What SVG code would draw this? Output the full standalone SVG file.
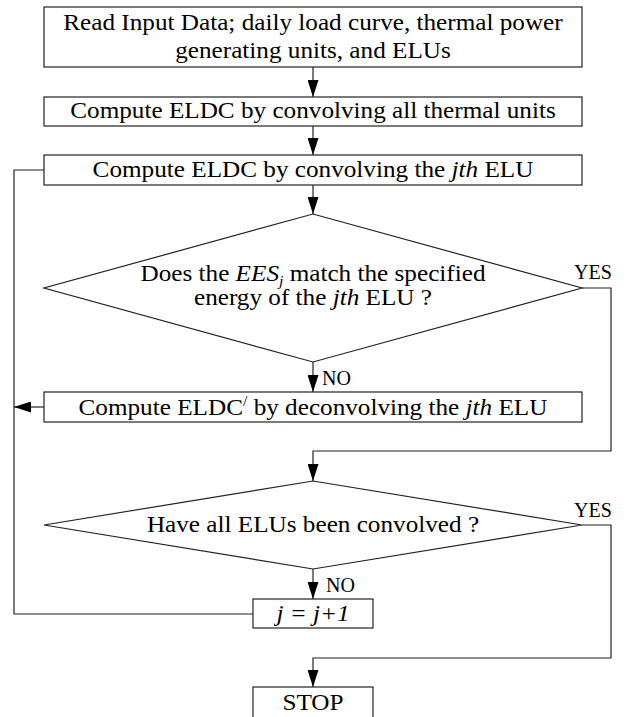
<svg xmlns="http://www.w3.org/2000/svg" width="628" height="717" viewBox="0 0 628 717">
<style>
text{font-family:"Liberation Serif","Times New Roman",Times,serif}
.b{fill:#fff;stroke:#222;stroke-width:1.2}
.c{fill:none;stroke:#222;stroke-width:1.2}
.t{font-size:24px;text-anchor:middle}
.l{font-size:20px}
.i{font-style:italic}
</style>
<defs>
<marker id="ah" viewBox="0 0 17 11" refX="17" refY="5.5" markerWidth="17" markerHeight="11" markerUnits="userSpaceOnUse" orient="auto">
<path d="M0,0 L17,5.5 L0,11 Z" fill="#000"/>
</marker>
</defs>
<rect width="628" height="717" fill="#fff"/>
<g id="connectors">
<path class="c" d="M313,67 V97" marker-end="url(#ah)"/>
<path class="c" d="M313,126 V155" marker-end="url(#ah)"/>
<path class="c" d="M313,185 V214" marker-end="url(#ah)"/>
<path class="c" d="M313,362 V392" marker-end="url(#ah)"/>
<path class="c" d="M582,288 H611 V451 H313 V481" marker-end="url(#ah)"/>
<path class="c" d="M44,407 H14" marker-end="url(#ah)"/>
<path class="c" d="M44,170 H14 V614 H253"/>
<path class="c" d="M313,569 V599" marker-end="url(#ah)"/>
<path class="c" d="M582,525 H611 V658 H313 V687" marker-end="url(#ah)"/>
<text class="l" x="574" y="279">YES</text>
<text class="l" x="322" y="385">NO</text>
<text class="l" x="574" y="517">YES</text>
<text class="l" x="326" y="592">NO</text>
</g>
<g id="read">
<rect class="b" x="44" y="7" width="538" height="60"/>
<g transform="translate(313,0) scale(1.05,1) translate(-313,0)">
<text class="t" x="313" y="30">Read Input Data; daily load curve, thermal power</text>
<text class="t" x="313" y="58">generating units, and ELUs</text>
</g>
</g>
<g id="thermal">
<rect class="b" x="44" y="97" width="538" height="29"/>
<text class="t" x="313" y="118" transform="translate(313,0) scale(1.05,1) translate(-313,0)">Compute ELDC by convolving all thermal units</text>
</g>
<g id="convolve">
<rect class="b" x="44" y="155" width="538" height="30"/>
<text class="t" x="313" y="177" transform="translate(313,0) scale(1.05,1) translate(-313,0)">Compute ELDC by convolving the <tspan class="i">jth</tspan> ELU</text>
</g>
<g id="match">
<polygon class="b" points="313,214 582,288 313,362 44,288"/>
<g transform="translate(313,0) scale(1.05,1) translate(-313,0)">
<text class="t" x="313" y="281">Does the <tspan class="i">EES</tspan><tspan class="i" font-size="15" dy="5">j</tspan><tspan dy="-5"> match the specified</tspan></text>
<text class="t" x="313" y="305">energy of the <tspan class="i">jth</tspan> ELU ?</text>
</g>
</g>
<g id="deconvolve">
<rect class="b" x="44" y="392" width="538" height="30"/>
<text class="t" x="313" y="415" transform="translate(313,0) scale(1.05,1) translate(-313,0)">Compute ELDC<tspan font-size="15" dy="-9">/</tspan><tspan dy="9"> by deconvolving the </tspan><tspan class="i">jth</tspan> ELU</text>
</g>
<g id="allconvolved">
<polygon class="b" points="313,481 582,525 313,569 44,525"/>
<text class="t" x="313" y="532" transform="translate(313,0) scale(1.05,1) translate(-313,0)">Have all ELUs been convolved ?</text>
</g>
<g id="increment">
<rect class="b" x="253" y="599" width="120" height="29"/>
<text class="t i" x="313" y="621" transform="translate(313,0) scale(1.05,1) translate(-313,0)">j = j+1</text>
</g>
<g id="stop">
<rect class="b" x="253" y="687" width="120" height="34"/>
<text class="t" x="313" y="710" transform="translate(313,0) scale(1.05,1) translate(-313,0)">STOP</text>
</g>
</svg>
